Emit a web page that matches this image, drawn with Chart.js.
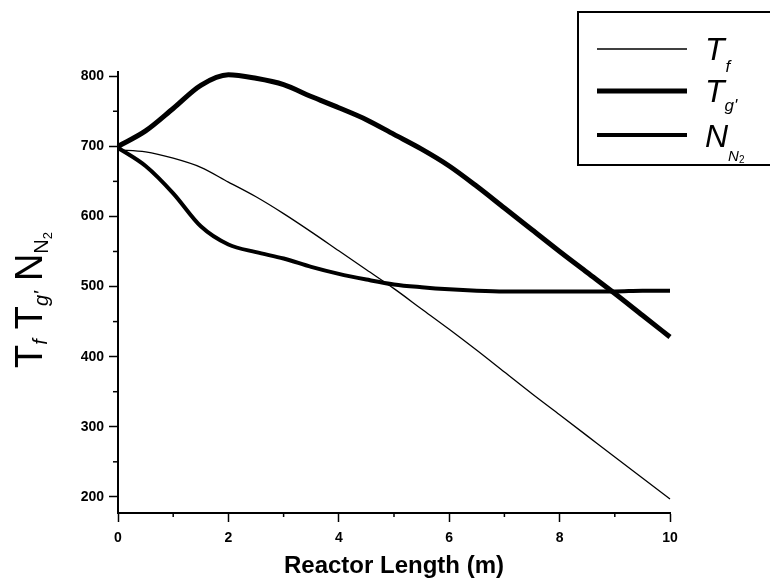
<!DOCTYPE html>
<html>
<head>
<meta charset="utf-8">
<script src="https://cdn.jsdelivr.net/npm/chart.js@4/dist/chart.umd.min.js"></script>
<style>
html,body{margin:0;padding:0;background:#fff;}
#wrap{width:770px;height:580px;position:relative;}
</style>
</head>
<body>
<div id="wrap"><canvas id="c" width="770" height="580"></canvas></div>
<script>
// ---- data ----
const reactorLength = [0,0.5,1,1.5,2,2.5,3,3.5,4,4.5,5,5.5,6,6.5,7,7.5,8,8.5,9,9.5,10];
const tempFluid = [695,692,683,670,649,628,604,578,551,524,497,468,439,409,378,347,317,287,257,227,197];
const tempGas   = [700,722,754,787,802,797,788,771,755,738,717,696,672,643,612,581,550,520,490,459,428];
const nitrogen  = [698,672,633,586,560,549,540,528,518,510,503,499,496,494,493,493,493,493,493,494,494];
const yTickValues = [200,300,400,500,600,700,800];
const yMinorTicks = [250,350,450,550,650,750];
const xTickValues = [0,2,4,6,8,10];
const xMinorTicks = [1,3,5,7,9];
const xTitle = 'Reactor Length (m)';

const FONT = "'Liberation Sans', Arial, Helvetica, sans-serif";
const toPts = ys => reactorLength.map((x, i) => ({x: x, y: ys[i]}));

function drawRuns(ctx, runs, x0, y0) {
  let x = x0;
  runs.forEach(r => {
    ctx.font = (r.italic ? 'italic ' : '') + r.size + 'px ' + FONT;
    ctx.fillText(r.t, x, y0 + (r.dy || 0));
    x += ctx.measureText(r.t).width + (r.gap || 0);
  });
  return x - x0;
}
function runsWidth(ctx, runs) {
  let w = 0;
  runs.forEach(r => {
    ctx.font = (r.italic ? 'italic ' : '') + r.size + 'px ' + FONT;
    w += ctx.measureText(r.t).width + (r.gap || 0);
  });
  return w;
}

const decor = {
  id: 'decor',
  afterDraw(chart) {
    const {ctx, chartArea: a, scales: {x, y}} = chart;
    ctx.save();
    ctx.strokeStyle = '#000';
    ctx.fillStyle = '#000';
    // minor ticks
    ctx.lineWidth = 1.5;
    yMinorTicks.forEach(v => {
      const py = y.getPixelForValue(v);
      ctx.beginPath(); ctx.moveTo(a.left - 5, py); ctx.lineTo(a.left, py); ctx.stroke();
    });
    xMinorTicks.forEach(v => {
      const px = x.getPixelForValue(v);
      ctx.beginPath(); ctx.moveTo(px, a.bottom); ctx.lineTo(px, a.bottom + 4); ctx.stroke();
    });
    // legend box
    ctx.lineWidth = 2;
    ctx.strokeRect(578, 12, 250, 153);
    const ds = chart.data.datasets;
    const rows = [
      {ly: 49, by: 60, runs: [{t:'T', size:32, italic:true, gap:1}, {t:'f', size:17, italic:true, dy:12}]},
      {ly: 91, by: 102, runs: [{t:'T', size:32, italic:true, gap:0}, {t:"g'", size:17, italic:true, dy:9}]},
      {ly: 135, by: 147, runs: [{t:'N', size:32, italic:true, gap:0}, {t:'N', size:15, italic:true, dy:14}, {t:'2', size:10, dy:16}]}
    ];
    ctx.textBaseline = 'alphabetic';
    ctx.textAlign = 'left';
    rows.forEach((r, i) => {
      ctx.lineWidth = ds[i].borderWidth;
      ctx.beginPath(); ctx.moveTo(597, r.ly); ctx.lineTo(687, r.ly); ctx.stroke();
      drawRuns(ctx, r.runs, 705, r.by);
    });
    // y-axis title
    const yRuns = [
      {t:'T', size:38, gap:0}, {t:'f', size:20, italic:true, dy:5, gap:10},
      {t:'T', size:38, gap:0}, {t:"g'", size:20, italic:true, dy:6, gap:10},
      {t:'N', size:38, gap:0}, {t:'N', size:20, dy:6, gap:0}, {t:'2', size:13, dy:10}
    ];
    ctx.translate(42, 300);
    ctx.rotate(-Math.PI / 2);
    const w = runsWidth(ctx, yRuns);
    drawRuns(ctx, yRuns, -w / 2, 0);
    ctx.restore();
  }
};

const common = {pointRadius: 0, borderColor: '#000', fill: false, cubicInterpolationMode: 'monotone', clip: false};

new Chart(document.getElementById('c').getContext('2d'), {
  type: 'line',
  data: {
    datasets: [
      Object.assign({label: 'Tf', data: toPts(tempFluid), borderWidth: 1.3}, common),
      Object.assign({label: "Tg'", data: toPts(tempGas), borderWidth: 5}, common),
      Object.assign({label: 'NN2', data: toPts(nitrogen), borderWidth: 4}, common)
    ]
  },
  options: {
    responsive: false,
    animation: false,
    devicePixelRatio: 1,
    layout: {padding: {top: 72, right: 100, bottom: 0, left: 0}},
    plugins: {legend: {display: false}, tooltip: {enabled: false}, title: {display: false}},
    scales: {
      x: {
        type: 'linear', min: 0, max: 10,
        afterBuildTicks: s => { s.ticks = xTickValues.map(v => ({value: v})); },
        afterFit: s => { s.height = 67; },
        border: {display: true, color: '#000', width: 2},
        grid: {display: true, drawOnChartArea: false, drawTicks: true, tickLength: 9, tickWidth: 1.5, tickColor: '#000'},
        ticks: {font: {family: FONT, size: 14, weight: 'bold'}, color: '#000', padding: 8, maxRotation: 0, autoSkip: false},
        title: {display: true, text: xTitle, font: {family: FONT, size: 24, weight: 'bold'}, color: '#000', padding: {top: 0, bottom: -1}}
      },
      y: {
        type: 'linear', min: 177, max: 806,
        afterBuildTicks: s => { s.ticks = yTickValues.map(v => ({value: v})); },
        afterFit: s => { s.width = 118; },
        border: {display: true, color: '#000', width: 2},
        grid: {display: true, drawOnChartArea: false, drawTicks: true, tickLength: 9, tickWidth: 1.5, tickColor: '#000'},
        ticks: {font: {family: FONT, size: 14, weight: 'bold'}, color: '#000', padding: 5, autoSkip: false}
      }
    }
  },
  plugins: [decor]
});
</script>
</body>
</html>
